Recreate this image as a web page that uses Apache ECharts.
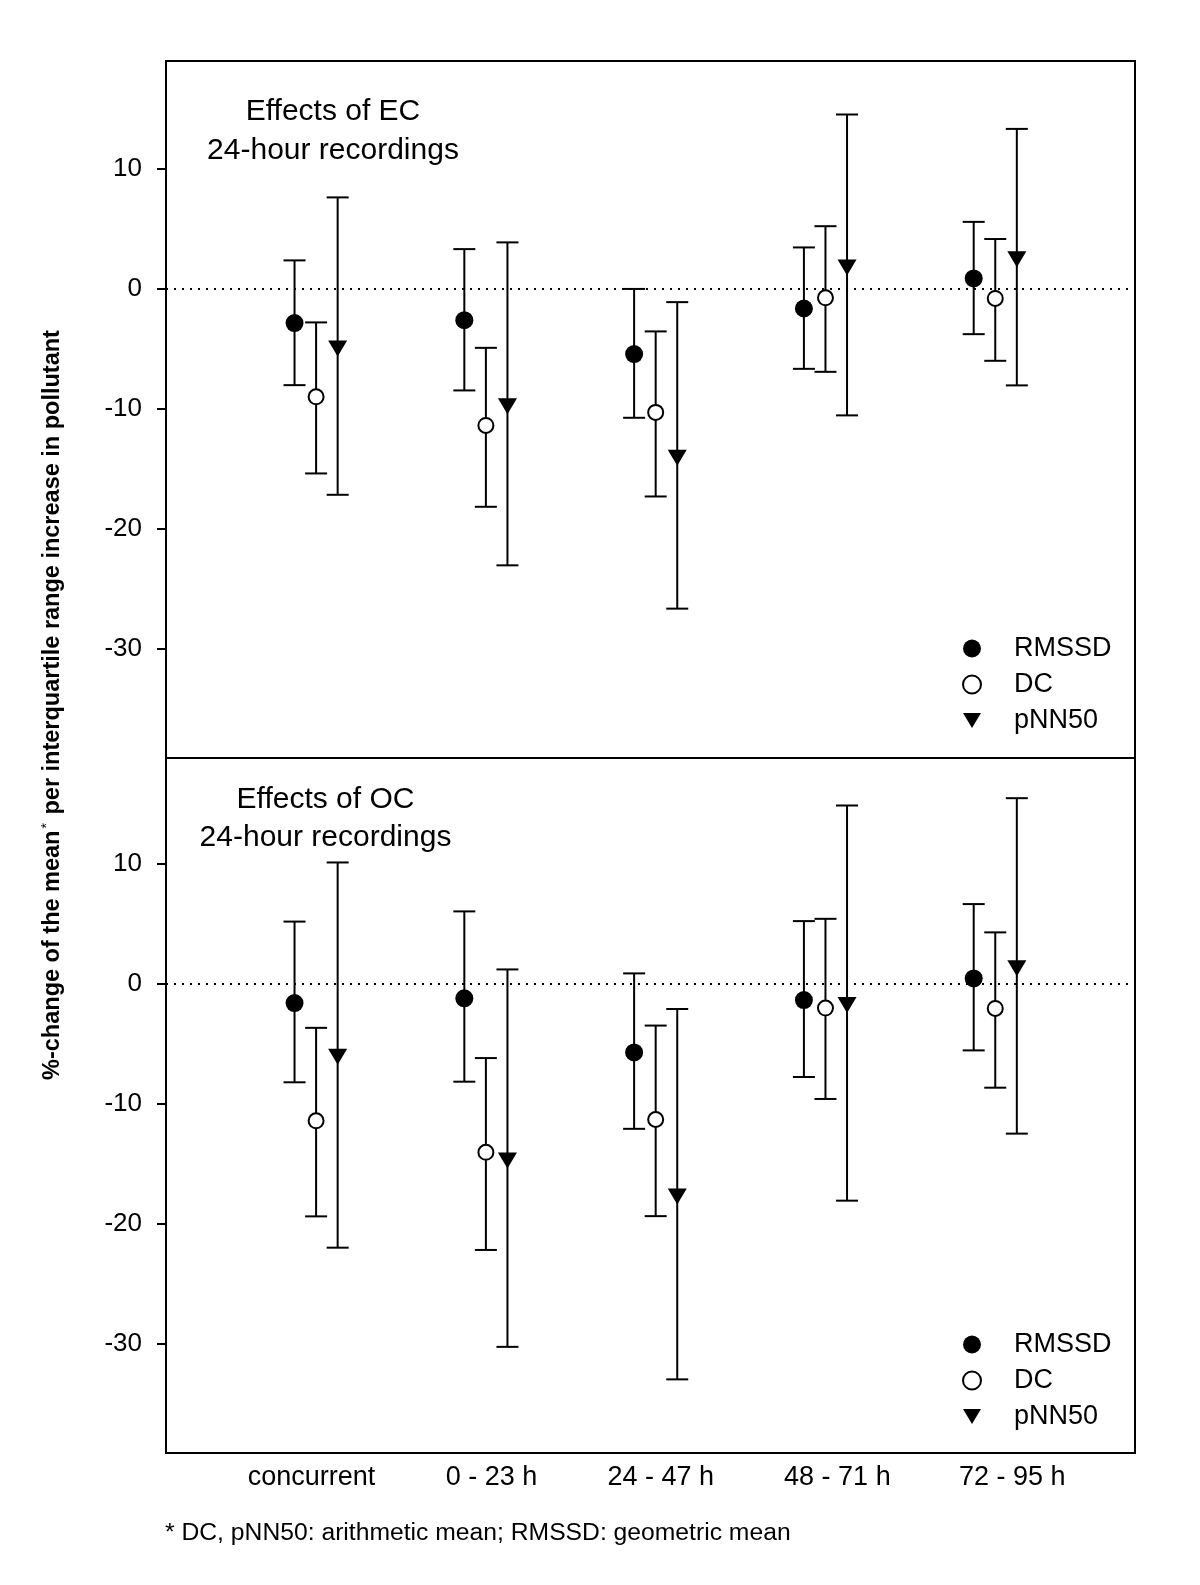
<!DOCTYPE html>
<html>
<head>
<meta charset="utf-8">
<script src="https://cdn.jsdelivr.net/npm/echarts@6/dist/echarts.min.js"></script>
<style>
html,body{margin:0;padding:0;background:#fff;}
#chart{width:1200px;height:1585px;}
</style>
</head>
<body>
<div id="chart"></div>
<script>
// ---- data ----
const categories = ['concurrent', '0 - 23 h', '24 - 47 h', '48 - 71 h', '72 - 95 h'];
const categoryPositions = [1, 2, 3, 4, 5];
const labelPositions = [0.973, 2.033, 3.03, 4.07, 5.1];
const yTicks = [-30, -20, -10, 0, 10];
const seriesNames = ['RMSSD', 'DC', 'pNN50'];
const seriesOffsets = [-0.127, 0, 0.127];

// Effects of EC
const ecRMSSD = [-2.85, -2.6, -5.43, -1.63, 0.88];
const ecRMSSDLow = [-8.02, -8.46, -10.74, -6.66, -3.77];
const ecRMSSDHigh = [2.38, 3.32, 0.0, 3.46, 5.59];
const ecDC = [-8.99, -11.38, -10.29, -0.74, -0.79];
const ecDCLow = [-15.38, -18.16, -17.3, -6.91, -5.99];
const ecDCHigh = [-2.79, -4.91, -3.54, 5.23, 4.16];
const ecPNN50 = [-4.96, -9.77, -14.08, 1.79, 2.48];
const ecPNN50Low = [-17.16, -23.04, -26.65, -10.54, -8.04];
const ecPNN50High = [7.63, 3.88, -1.1, 14.54, 13.34];

// Effects of OC
const ocRMSSD = [-1.58, -1.19, -5.7, -1.33, 0.47];
const ocRMSSDLow = [-8.19, -8.14, -12.07, -7.75, -5.53];
const ocRMSSDHigh = [5.21, 6.06, 0.89, 5.25, 6.67];
const ocDC = [-11.4, -14.03, -11.29, -2.0, -2.03];
const ocDCLow = [-19.37, -22.17, -19.35, -9.58, -8.64];
const ocDCHigh = [-3.65, -6.17, -3.46, 5.44, 4.31];
const ocPNN50 = [-6.06, -14.72, -17.71, -1.75, 1.31];
const ocPNN50Low = [-21.98, -30.25, -32.96, -18.06, -12.47];
const ocPNN50High = [10.14, 1.22, -2.08, 14.89, 15.5];

// ---- build ----
const FONT = "'Liberation Sans', Arial, Helvetica, sans-serif";
const triPath = 'path://M0,0L12,0L6,10Z';
const symbolDefs = [
  {symbol: 'circle', symbolSize: 18, itemStyle: {color: '#000', borderWidth: 0, opacity: 1}},
  {symbol: 'circle', symbolSize: 15, itemStyle: {color: '#fff', borderColor: '#000', borderWidth: 2, opacity: 1}},
  {symbol: triPath, symbolSize: [19, 16], itemStyle: {color: '#000', borderWidth: 0, opacity: 1}}
];

const panels = [
  {means: [ecRMSSD, ecDC, ecPNN50], lows: [ecRMSSDLow, ecDCLow, ecPNN50Low], highs: [ecRMSSDHigh, ecDCHigh, ecPNN50High]},
  {means: [ocRMSSD, ocDC, ocPNN50], lows: [ocRMSSDLow, ocDCLow, ocPNN50Low], highs: [ocRMSSDHigh, ocDCHigh, ocPNN50High]}
];

function renderErrorBar(params, api) {
  const x = api.value(0), lo = api.value(1), hi = api.value(2);
  const pLo = api.coord([x, lo]);
  const pHi = api.coord([x, hi]);
  const hw = 11;
  const st = {stroke: '#000', lineWidth: 2, fill: null};
  return {
    type: 'group',
    children: [
      {type: 'line', shape: {x1: pLo[0], y1: pLo[1], x2: pHi[0], y2: pHi[1]}, style: st},
      {type: 'line', shape: {x1: pLo[0] - hw, y1: pLo[1], x2: pLo[0] + hw, y2: pLo[1]}, style: st},
      {type: 'line', shape: {x1: pHi[0] - hw, y1: pHi[1], x2: pHi[0] + hw, y2: pHi[1]}, style: st}
    ]
  };
}

const series = [];
panels.forEach((p, pi) => {
  seriesNames.forEach((name, si) => {
    const errData = categoryPositions.map((c, i) => [c + seriesOffsets[si], p.lows[si][i], p.highs[si][i]]);
    series.push({
      type: 'custom',
      name: 'err-' + name + '-' + pi,
      xAxisIndex: pi, yAxisIndex: pi,
      renderItem: renderErrorBar,
      encode: {x: 0, y: [1, 2]},
      data: errData,
      z: 2,
      silent: true
    });
  });
  seriesNames.forEach((name, si) => {
    const d = categoryPositions.map((c, i) => [c + seriesOffsets[si], p.means[si][i]]);
    const s = Object.assign({
      type: 'scatter',
      name: name,
      xAxisIndex: pi, yAxisIndex: pi,
      data: d,
      z: 5,
      symbolKeepAspect: false
    }, symbolDefs[si]);
    if (si === 0) {
      s.markLine = {
        silent: true,
        symbol: ['none', 'none'],
        label: {show: false},
        lineStyle: {color: '#000', type: [2, 6], width: 2, opacity: 1},
        data: [{yAxis: 0}],
        z: 1
      };
    }
    series.push(s);
  });
});

function yAxisOpt(gi, min, max) {
  return {
    type: 'value', gridIndex: gi, min: min, max: max,
    splitLine: {show: false},
    axisLine: {show: true, lineStyle: {color: '#000', width: 2}},
    axisTick: {show: true, inside: false, length: 9, lineStyle: {color: '#000', width: 2}, customValues: yTicks},
    axisLabel: {show: true, margin: 24, color: '#000', fontSize: 26, fontFamily: FONT, customValues: yTicks}
  };
}

function labelFor(v) {
  let best = 0, bd = Infinity;
  labelPositions.forEach((p, i) => { const d = Math.abs(p - v); if (d < bd) { bd = d; best = i; } });
  return categories[best];
}

function xAxisOpt(gi, showLabels) {
  return {
    type: 'value', gridIndex: gi, min: 0.116, max: 5.823,
    splitLine: {show: false},
    axisLine: {show: false},
    axisTick: {show: false},
    axisLabel: {
      show: showLabels, margin: 11, color: '#000', fontSize: 27, fontFamily: FONT,
      showMinLabel: true, showMaxLabel: true,
      customValues: labelPositions,
      formatter: function (v) { return labelFor(v); }
    }
  };
}

function legendOpt(top) {
  return {
    orient: 'vertical', left: 957, top: top,
    itemWidth: 18, itemHeight: 18, itemGap: 9,
    selectedMode: false,
    textStyle: {color: '#000', fontSize: 27, fontFamily: FONT, lineHeight: 20, padding: [0, 0, 0, 28]},
    data: [
      {name: 'RMSSD'}, {name: 'DC', itemStyle: {borderWidth: 2}}, {name: 'pNN50'}
    ]
  };
}

const option = {
  backgroundColor: '#fff',
  animation: false,
  grid: [
    {left: 166, top: 61, width: 969, height: 697, show: true, borderColor: '#000', borderWidth: 2, backgroundColor: 'transparent'},
    {left: 166, top: 758, width: 969, height: 695, show: true, borderColor: '#000', borderWidth: 2, backgroundColor: 'transparent'}
  ],
  xAxis: [xAxisOpt(0, false), xAxisOpt(1, true)],
  yAxis: [yAxisOpt(0, -39.1, 19.0), yAxisOpt(1, -39.1, 18.85)],
  legend: [legendOpt(630), legendOpt(1326)],
  graphic: [
    {type: 'text', x: 333, y: 112, style: {text: 'Effects of EC', fontSize: 30, fontFamily: FONT, fill: '#000', align: 'center', verticalAlign: 'middle'}},
    {type: 'text', x: 333, y: 150.5, style: {text: '24-hour recordings', fontSize: 30, fontFamily: FONT, fill: '#000', align: 'center', verticalAlign: 'middle'}},
    {type: 'text', x: 325.5, y: 799.5, style: {text: 'Effects of OC', fontSize: 30, fontFamily: FONT, fill: '#000', align: 'center', verticalAlign: 'middle'}},
    {type: 'text', x: 325.5, y: 838, style: {text: '24-hour recordings', fontSize: 30, fontFamily: FONT, fill: '#000', align: 'center', verticalAlign: 'middle'}},
    {type: 'text', x: 165, y: 1533, style: {text: '* DC, pNN50: arithmetic mean; RMSSD: geometric mean', fontSize: 24.7, fontFamily: FONT, fill: '#000', align: 'left', verticalAlign: 'middle'}},
    {type: 'text', x: 53, y: 705, rotation: Math.PI / 2,
      style: {
        text: '%-change of the mean{s|*} per interquartile range increase in pollutant',
        fontSize: 23.5, fontWeight: 'bold', fontFamily: FONT, fill: '#000',
        align: 'center', verticalAlign: 'middle',
        rich: {s: {fontSize: 14, fontWeight: 'normal', fontFamily: FONT, verticalAlign: 'top', padding: [0, 2, 12, 2]}}
      }
    }
  ],
  series: series
};

const chart = echarts.init(document.getElementById('chart'), null, {renderer: 'canvas'});
chart.setOption(option);
</script>
</body>
</html>
